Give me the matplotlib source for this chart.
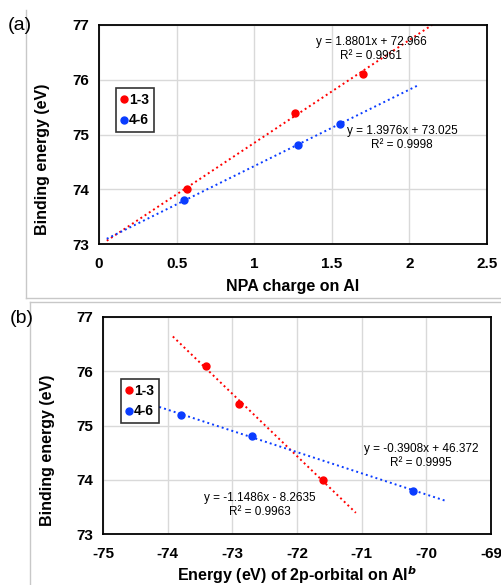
import matplotlib
matplotlib.use("Agg")
import matplotlib.pyplot as plt
from matplotlib.lines import Line2D
import numpy as np

plt.rcParams['font.family'] = ['Liberation Sans', 'DejaVu Sans']
plt.rcParams['axes.unicode_minus'] = False

# panel (a): NPA charge vs binding energy
npa_13 = [0.57, 1.26, 1.70]
be_13 = [74.0, 75.4, 76.1]
npa_46 = [0.55, 1.28, 1.55]
be_46 = [73.8, 74.8, 75.2]
fit_a_13 = (1.8801, 72.966)
fit_a_46 = (1.3976, 73.025)
span_a_13 = (0.05, 2.146)
span_a_46 = (0.05, 2.05)

# panel (b): 2p orbital energy vs binding energy
orb_13 = [-73.4, -72.9, -71.6]
be_b_13 = [76.1, 75.4, 74.0]
orb_46 = [-73.8, -72.7, -70.2]
be_b_46 = [75.2, 74.8, 73.8]
fit_b_13 = (-1.1486, -8.2635)
fit_b_46 = (-0.3908, 46.372)
span_b_13 = (-73.92, -71.09)
span_b_46 = (-74.13, -69.71)

RED = '#ff0000'
BLUE = '#0a3cff'
W, H = 501, 585

fig = plt.figure(figsize=(W / 100, H / 100), dpi=100)


def px_axes(l, t, r, b):
    return fig.add_axes([l / W, 1 - b / H, (r - l) / W, (b - t) / H])


def trend(ax, fit, span, color):
    xs = np.array(span)
    ax.plot(xs, fit[0] * xs + fit[1], color=color, lw=1.4, ls=(0, (1, 1.6)), zorder=2)


def style(ax, ylab_x, ylab_y):
    ax.set_ylim(73, 77)
    ax.set_yticks([73, 74, 75, 76, 77])
    ax.grid(True, color='#d9d9d9', lw=1.0)
    ax.set_axisbelow(True)
    for s in ax.spines.values():
        s.set_linewidth(1.3)
        s.set_color('black')
    ax.tick_params(length=0, labelsize=11, pad=7)
    ax.tick_params(axis='x', pad=9)
    for lab in ax.get_xticklabels() + ax.get_yticklabels():
        lab.set_fontweight('bold')
    ax.set_ylabel('Binding energy (eV)', fontsize=11.5, fontweight='bold')
    # excel places the axis title off-centre
    ax.yaxis.set_label_coords(ylab_x, ylab_y)


def legend(ax, x0, y0, x1, y1):
    h = [Line2D([], [], ls='none', marker='o', ms=5, color=RED),
         Line2D([], [], ls='none', marker='o', ms=5, color=BLUE)]
    leg = ax.legend(h, ['1-3', '4-6'], loc='center',
                    bbox_to_anchor=((x0 + x1) / 2 / W, 1 - (y0 + y1) / 2 / H),
                    bbox_transform=fig.transFigure, frameon=True, fancybox=False,
                    handlelength=0.4, handletextpad=0.2, labelspacing=0.5,
                    borderpad=0.35, borderaxespad=0, prop={'weight': 'bold', 'size': 10})
    leg.get_frame().set_edgecolor('black')
    leg.get_frame().set_linewidth(1.2)


# ---- panel (a)
ax1 = px_axes(99, 25, 487, 244)
ax1.set_xlim(0, 2.5)
ax1.set_xticks([0, 0.5, 1, 1.5, 2, 2.5])
ax1.set_xticklabels(['0', '0.5', '1', '1.5', '2', '2.5'])
trend(ax1, fit_a_13, span_a_13, RED)
trend(ax1, fit_a_46, span_a_46, BLUE)
ax1.plot(npa_13, be_13, 'o', color=RED, ms=5, zorder=3)
ax1.plot(npa_46, be_46, 'o', color=BLUE, ms=5, zorder=3)
style(ax1, (50 - 99) / 388, (244 - 159) / 219)
ax1.set_xlabel('NPA charge on Al', fontsize=11.5, fontweight='bold', labelpad=6)
legend(ax1, 116, 89, 154, 131)
fig.text(371 / W, 1 - 49 / H, 'y = 1.8801x + 72.966\nR² = 0.9961', ha='center', va='center',
         fontsize=8.5, linespacing=1.15)
fig.text(402 / W, 1 - 138 / H, 'y = 1.3976x + 73.025\nR² = 0.9998', ha='center', va='center',
         fontsize=8.5, linespacing=1.15)

# ---- panel (b)
ax2 = px_axes(103, 317, 491, 534)
ax2.set_xlim(-75, -69)
ax2.set_xticks([-75, -74, -73, -72, -71, -70, -69])
trend(ax2, fit_b_13, span_b_13, RED)
trend(ax2, fit_b_46, span_b_46, BLUE)
ax2.plot(orb_13, be_b_13, 'o', color=RED, ms=5, zorder=3)
ax2.plot(orb_46, be_b_46, 'o', color=BLUE, ms=5, zorder=3)
style(ax2, (55 - 103) / 388, (534 - 450) / 217)
ax2.set_xlabel('Energy (eV) of 2p-orbital on Al$^{\\mathbfit{b}}$', fontsize=11.5,
               fontweight='bold', labelpad=3)
legend(ax2, 121, 380, 159, 422)
fig.text(421 / W, 1 - 456 / H, 'y = -0.3908x + 46.372\nR² = 0.9995', ha='center', va='center',
         fontsize=8.5, linespacing=1.15)
fig.text(260 / W, 1 - 505 / H, 'y = -1.1486x - 8.2635\nR² = 0.9963', ha='center', va='center',
         fontsize=8.5, linespacing=1.15)

# panel letters
fig.text(20 / W, 1 - 26 / H, '(a)', ha='center', va='center', fontsize=14)
fig.text(22 / W, 1 - 319 / H, '(b)', ha='center', va='center', fontsize=14)

# grey frame lines from the original layout
g = '#c8c8c8'
fig.add_artist(Line2D([26 / W, 26 / W], [1 - 10 / H, 1 - 298 / H], color=g, lw=1))
fig.add_artist(Line2D([26 / W, 1], [1 - 298 / H, 1 - 298 / H], color=g, lw=1))
fig.add_artist(Line2D([30 / W, 1], [1 - 302 / H, 1 - 302 / H], color=g, lw=1))
fig.add_artist(Line2D([30 / W, 30 / W], [1 - 302 / H, 0], color=g, lw=1))

fig.savefig('out.png', dpi=100)
